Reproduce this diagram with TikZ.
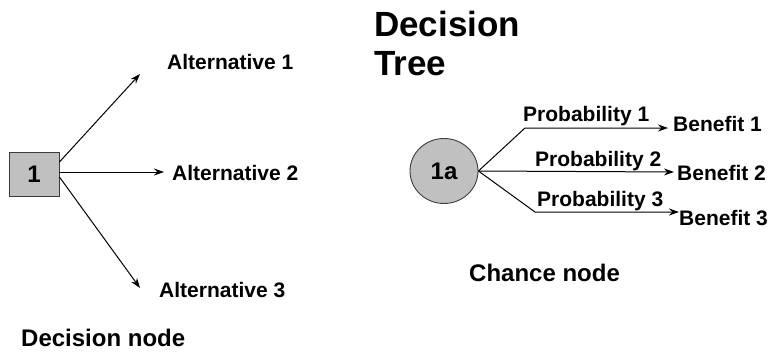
\documentclass[tikz,border=0pt]{standalone}
\usepackage{fontspec}
\setmainfont{Liberation Sans}
\usetikzlibrary{arrows.meta,shapes.geometric}
\definecolor{nodegray}{RGB}{192,192,192}
\definecolor{edgegray}{RGB}{60,60,60}
\newcommand{\labfont}{\fontsize{21pt}{24pt}\bfseries\selectfont}
\newcommand{\capfont}{\fontsize{24pt}{28pt}\bfseries\selectfont}
\newcommand{\ttlfont}{\fontsize{35pt}{38pt}\bfseries\selectfont}
\begin{document}
\begin{tikzpicture}[x=1pt,y=-1pt,
  lab/.style={font=\labfont,inner sep=0pt,anchor=base west},
  caption/.style={font=\capfont,inner sep=0pt,anchor=base west},
  link/.style={draw=black,line width=1pt},
  arr/.style={link,-{Stealth[length=10pt,width=7pt]}}]
\useasboundingbox (0,0) rectangle (768,353);

% title
\node[font=\ttlfont,inner sep=0pt,anchor=base west] (title1) at (374,37) {Decision};
\node[font=\ttlfont,inner sep=0pt,anchor=base west] (title2) at (374,75) {Tree};

% decision node and its alternatives
\node[draw=edgegray,fill=nodegray,line width=0.9pt,minimum width=50pt,minimum height=44pt,
      inner sep=0pt,font=\capfont] (d) at (34,174) {1};
\node[lab] (a1) at (167,70) {Alternative 1};
\node[lab] (a2) at (172,180) {Alternative 2};
\node[lab] (a3) at (159,297) {Alternative 3};
\coordinate (ta1) at (140,74);
\coordinate (ta2) at (164,172);
\coordinate (ta3) at (140,288);
\draw[arr] ([yshift=12pt]d.east) -- (ta1);
\draw[arr] ([yshift=2pt]d.east) -- (ta2);
\draw[arr] ([yshift=-3pt]d.east) -- (ta3);
\node[caption] (dn) at (21,346.5) {Decision node};

% chance node and its outcomes
\node[ellipse,draw=edgegray,fill=nodegray,line width=0.9pt,minimum width=68pt,minimum height=65pt,
      inner sep=0pt,font=\capfont] (c) at (444,171) {1a};
\node[lab] (p1) at (523,121.5) {Probability 1};
\node[lab] (p2) at (535,166.5) {Probability 2};
\node[lab] (p3) at (537,206.5) {Probability 3};
\node[lab] (b1) at (673,131.5) {Benefit 1};
\node[lab] (b2) at (677,180) {Benefit 2};
\node[lab] (b3) at (679,225) {Benefit 3};
\coordinate (k1) at (525,128);
\coordinate (k3) at (535,212);
\coordinate (tb1) at (668,128);
\coordinate (tb2) at (674,172);
\coordinate (tb3) at (679,212);
\draw[arr] (c.east) -- (k1) -- (tb1);
\draw[arr] (c.east) -- (tb2);
\draw[arr] (c.east) -- (k3) -- (tb3);
\node[caption] (cn) at (469,281.5) {Chance node};
\end{tikzpicture}
\end{document}
